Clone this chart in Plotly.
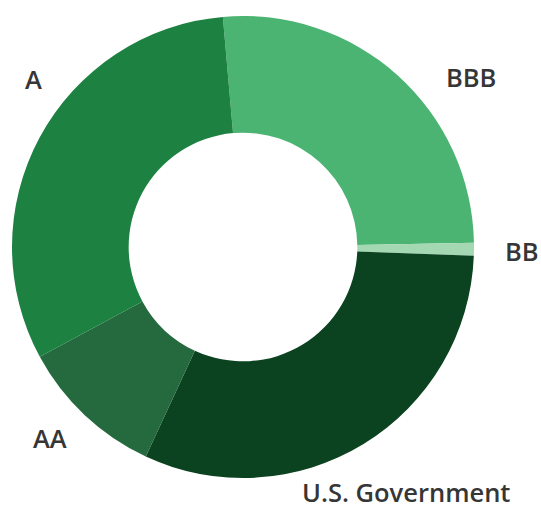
import plotly.graph_objects as go

# Portfolio breakdown by credit quality (percent of holdings)
ratings = ["BBB", "BB", "U.S. Government", "AA", "A"]
shares = [26.1, 0.9, 31.3, 10.2, 31.5]
colors = ["#4bb473", "#a3d8b3", "#0b421f", "#25693e", "#1c8141"]

# Label centre points in pixels for each rating
label_x = [471, 522, 406, 50, 33]
label_y = [77, 251, 492, 438, 79]

W, H = 541, 515

fig = go.Figure(
    go.Pie(
        labels=ratings,
        values=shares,
        hole=0.495,
        sort=False,
        direction="clockwise",
        rotation=-5,
        marker=dict(colors=colors, line=dict(width=0)),
        textinfo="none",
        hoverinfo="label+percent",
        showlegend=False,
        domain=dict(x=[12 / W, 474 / W], y=[1 - 478 / H, 1 - 16 / H]),
    )
)

for name, px, py in zip(ratings, label_x, label_y):
    fig.add_annotation(
        text=name,
        x=px / W,
        y=1 - py / H,
        xref="paper",
        yref="paper",
        xanchor="center",
        yanchor="middle",
        showarrow=False,
        font=dict(family="Open Sans", size=25.5, color="#363636", weight=600),
    )

fig.update_layout(
    width=W,
    height=H,
    margin=dict(l=0, r=0, t=0, b=0),
    paper_bgcolor="white",
    plot_bgcolor="white",
)

fig.write_html("out.html")
